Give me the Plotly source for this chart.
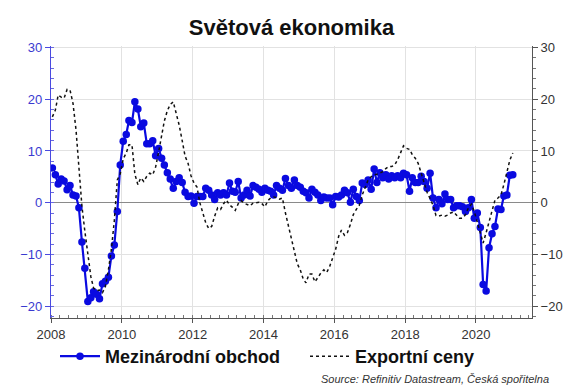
import pandas as pd
import plotly.graph_objects as go

start_month = "2008-01-01"

trade = [6.7, 5.4, 3.6, 4.6, 4.2, 2.5, 3.3, 1.5, 1.3, -1.0,
         -7.6, -12.7, -19.1, -18.4, -17.2, -17.7, -18.6, -15.7, -15.2, -14.4,
         -10.3, -8.2, -1.7, 7.3, 11.9, 13.2, 15.9, 15.5, 19.5, 18.1,
         14.7, 15.4, 11.4, 11.4, 12.0, 9.1, 10.5, 8.6, 7.3, 5.8,
         4.6, 2.8, 4.1, 4.8, 3.9, 2.0, 1.2, 1.3, -0.1, 1.2,
         1.2, 1.2, 2.8, 2.4, 1.5, 0.6, 1.9, 1.5, 1.9, 1.5,
         3.8, 2.2, 2.0, 4.1, 0.9, 1.5, 2.4, 1.3, 3.3, 3.0,
         2.6, 2.0, 2.8, 2.4, 2.2, 1.5, 3.3, 2.8, 2.4, 4.7,
         3.3, 2.8, 4.4, 3.3, 3.0, 2.2, 1.9, 0.9, 2.6, 2.0,
         1.5, 0.4, 1.1, 0.9, 0.9, -0.4, 1.2, 1.1, 1.5, 2.4,
         1.9, 0.1, 2.6, 1.2, 0.4, 3.8, 3.5, 4.4, 2.6, 6.5,
         3.9, 5.8, 4.8, 5.4, 4.6, 5.2, 4.8, 5.2, 4.8, 5.7,
         5.4, 2.2, 4.8, 3.9, 3.9, 5.1, 4.1, 2.8, 5.7, 0.9,
         -1.0, 0.6, -0.2, 1.7, 0.6, 0.6, -1.0, -0.6, -0.6, -0.8,
         -1.7, -1.0, 0.6, -3.0, -2.0, -4.8, -15.8, -17.1, -8.7, -6.0,
         -4.6, -1.2, -1.3, 1.3, 1.5, 5.3, 5.4]

export_prices = [16.6, 17.9, 20.8, 20.4, 20.2, 21.9, 21.8, 19.2, 14.1, 6.4,
                 -0.7, -5.5, -10.5, -14.3, -16.5, -17.0, -16.9, -17.4, -16.2, -13.0,
                 -9.0, -3.5, 4.4, 5.6, 8.5, 9.6, 11.2, 11.2, 5.5, 3.5,
                 4.8, 4.1, 5.1, 5.7, 5.4, 6.9, 9.8, 13.0, 15.8, 17.8,
                 19.0, 19.5, 17.5, 15.0, 12.0, 9.0, 7.6, 5.2, 3.8, 3.0,
                 0.0, -2.2, -3.9, -5.0, -4.6, -2.6, -1.0, -1.3, -0.2, 0.5,
                 -0.4, -0.9, -1.5, -0.2, 0.4, -0.1, -0.4, -0.6, -0.1, 0.0,
                 0.1, -0.2, -0.8, 0.4, 0.9, 1.1, 1.0, 0.7, 0.9, -2.0,
                 -4.5, -7.5, -9.5, -11.8, -13.0, -14.8, -15.5, -13.8, -13.8, -15.3,
                 -14.5, -13.6, -13.0, -13.5, -12.3, -10.8, -9.0, -6.5, -5.3, -6.3,
                 -5.8, -4.2, -2.3, -1.3, -0.5, 1.5, 3.1, 4.4, 5.0, 5.4,
                 5.5, 5.7, 6.0, 6.6, 7.0, 7.0, 7.3, 8.3, 9.8, 11.0,
                 10.5, 10.3, 9.3, 8.6, 7.6, 5.7, 3.8, 2.0, 0.8, -0.5,
                 -2.5, -2.6, -2.4, -2.6, -2.4, -2.0, -1.8, -2.5, -3.0, -3.0,
                 -2.3, -1.0, -0.3, -1.7, -3.7, -6.0, -7.8, -5.8, -3.6, -1.6,
                 0.5, 0.9, 1.5, 3.5, 5.8, 8.2, 9.6]

dates = pd.date_range(start_month, periods=len(trade), freq="MS") + pd.Timedelta(days=14)
dates_exp = pd.date_range(start_month, periods=len(export_prices), freq="MS") + pd.Timedelta(days=14)

y_ticks = [-20, -10, 0, 10, 20, 30]
x_tick_years = ["2008", "2010", "2012", "2014", "2016", "2018", "2020"]

BLUE = "#0a0ae0"
FONT = "Liberation Sans, Arial, sans-serif"

fig = go.Figure()
fig.add_trace(go.Scatter(
    x=dates, y=trade, name="Mezinárodní obchod", mode="lines+markers",
    line=dict(color=BLUE, width=2.2), marker=dict(color=BLUE, size=7.5),
    yaxis="y", legend="legend"))
fig.add_trace(go.Scatter(
    x=dates_exp, y=export_prices, name="Exportní ceny", mode="lines",
    line=dict(color="#111111", width=1.5, dash="dot"),
    yaxis="y2", legend="legend2"))

yr = [-22.3, 30.3]
legend_common = dict(orientation="h", xref="container", xanchor="left",
                     yref="container", y=(390 - 338) / 390, yanchor="top",
                     font=dict(size=18, color="#111111", weight="bold"),
                     bgcolor="rgba(0,0,0,0)", itemwidth=40)
fig.update_layout(
    width=579, height=390,
    margin=dict(l=51, r=47, t=46, b=72, autoexpand=False),
    paper_bgcolor="white", plot_bgcolor="white",
    font=dict(family=FONT, color="#333333"),
    title=dict(text="Světová ekonomika", x=0.5, xref="paper", xanchor="center",
               y=1 - 27 / 390, yref="container", yanchor="middle",
               font=dict(size=22, color="#111111", weight="bold")),
    xaxis=dict(range=["2008-01-01", "2021-08-01"], type="date",
               tickvals=[f"{y}-01-01" for y in x_tick_years], ticktext=x_tick_years,
               tickfont=dict(size=13, color="#333333"),
               showgrid=True, gridcolor="#e2e2e2", gridwidth=1,
               showline=True, linecolor="#555555", linewidth=1,
               ticks="outside", ticklen=4, tickcolor="#555555",
               minor=dict(dtick="M3", ticks="inside", ticklen=3, tickcolor="#777777", showgrid=False),
               zeroline=False),
    yaxis=dict(range=yr, tickvals=y_ticks, tickfont=dict(size=13, color="#3a3ad0"),
               showgrid=True, gridcolor="#e2e2e2", gridwidth=1,
               showline=True, linecolor="#4a4ae0", linewidth=1.2,
               ticks="outside", ticklen=5, tickcolor="#4a4ae0",
               minor=dict(dtick=2, ticks="inside", ticklen=3, tickcolor="#6a6ae0", showgrid=False),
               zeroline=True, zerolinecolor="#8a8a8a", zerolinewidth=1.2),
    yaxis2=dict(range=yr, tickvals=y_ticks, overlaying="y", side="right",
                tickfont=dict(size=13, color="#333333"),
                showgrid=False, showline=True, linecolor="#555555", linewidth=1,
                ticks="outside", ticklen=5, tickcolor="#555555",
                minor=dict(dtick=2, ticks="outside", ticklen=3, tickcolor="#777777"),
                zeroline=False),
    legend=dict(legend_common, x=55 / 579),
    legend2=dict(legend_common, x=305 / 579),
    showlegend=True,
    annotations=[dict(text="<i>Source: Refinitiv Datastream, Česká spořitelna</i>",
                      xref="paper", yref="paper", x=1.04, y=-0.195, xanchor="right",
                      yanchor="top", showarrow=False,
                      font=dict(size=11, color="#333333"))],
)
fig.write_html("out.html", config={"displayModeBar": False},
               post_script="document.body.style.margin='0';document.body.style.overflow='hidden';")
